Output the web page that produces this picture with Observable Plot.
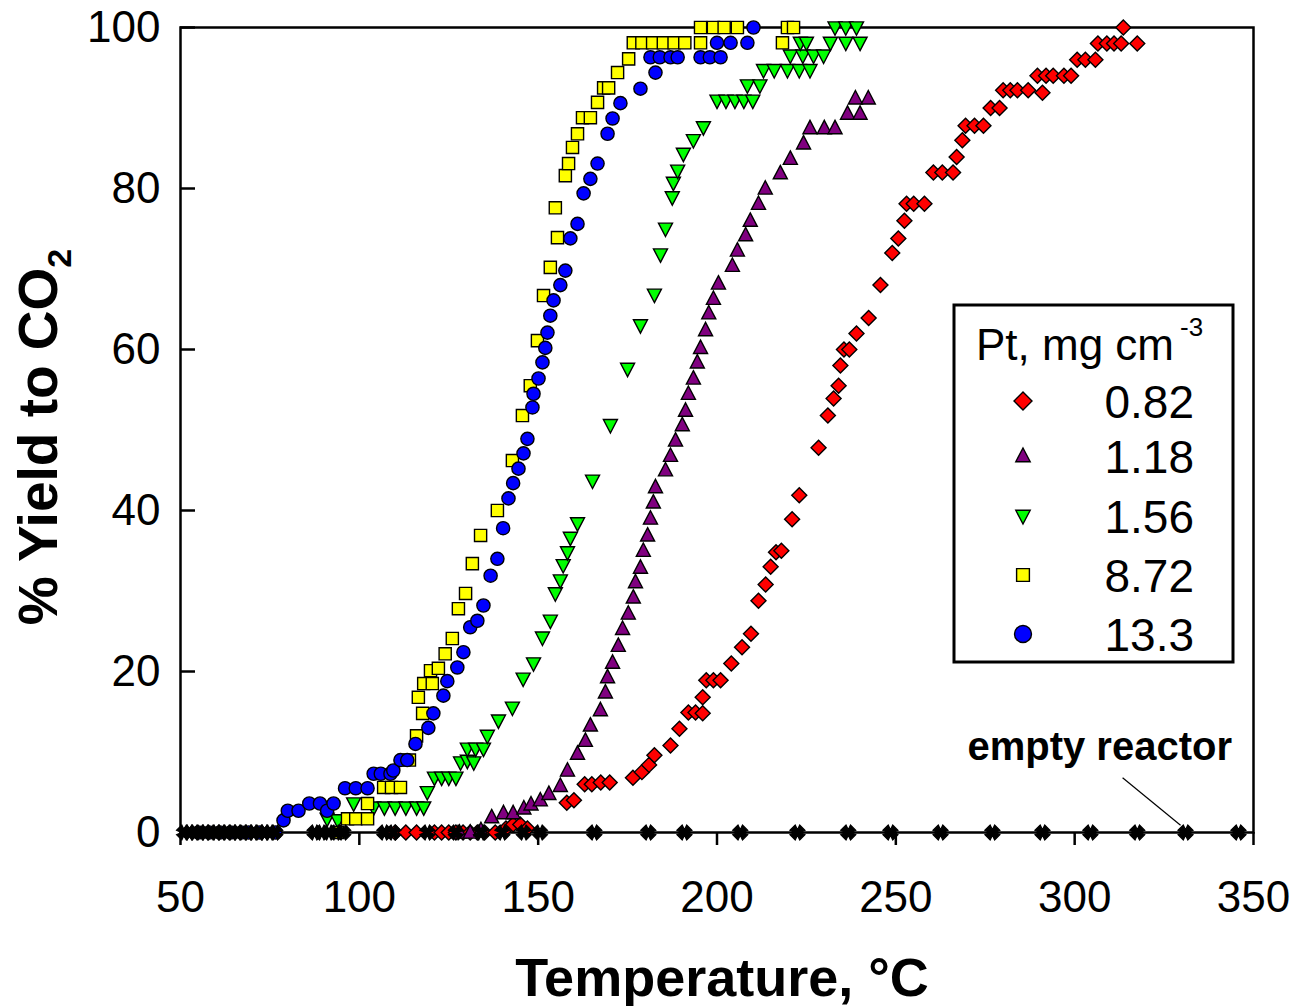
<!DOCTYPE html>
<html><head><meta charset="utf-8">
<script src="https://cdn.jsdelivr.net/npm/d3@7"></script>
<script src="https://cdn.jsdelivr.net/npm/@observablehq/plot@0.6"></script>
<style>body{margin:0;background:#fff} #chart{width:1296px;height:1006px}</style>
</head><body><div id="chart"></div>
<script>
// ---- data (temperature °C, % yield to CO2) ----
const seriesLabels = ["0.82", "1.18", "1.56", "8.72", "13.3"];
const pt082 = [[110,0],[113,0],[116,0],[121,0],[123,0],[125,0],[127,0],[129,0],[131,0],[133,0],[135,0],[138,0],[141,0.5],[143,1],[145,1],[147,0.5],[158,3.7],[160,4],[163,6],[165,6],[167.5,6.2],[170,6.2],[176.5,6.8],[179,7.5],[181,8.4],[182.5,9.6],[187,10.8],[189.5,12.9],[192,14.9],[194,14.9],[196,14.8],[196,16.8],[197,18.9],[199,18.9],[201,18.9],[204,21],[207,23],[209.5,24.7],[211.6,28.8],[213.6,30.8],[215,33],[216.5,34.8],[218,35],[221,38.9],[223,41.9],[228.4,47.8],[231,51.8],[232.6,53.9],[234,55.5],[234.5,58],[235.5,60],[237,60],[239,62],[242.4,63.9],[245.7,68],[249,72],[250.7,73.8],[252.4,76],[253,78.1],[255,78.1],[258,78.1],[260.5,82],[263,82],[266,82],[267,83.9],[268.6,86],[269.5,87.8],[272,87.8],[274.5,87.8],[276.5,90],[279,90],[280,92.2],[282,92.2],[284,92.2],[287,92.2],[289.6,94],[291,91.9],[292,94],[294,94],[297,94],[299,94],[300.7,96],[303,96],[305.8,96],[306.5,98],[309,98],[311,98],[313,98],[313.6,100],[317.5,98]];
const pt118 = [[128,0],[131,0],[134,0.3],[137,1.9],[140.3,2.4],[143,2.4],[146,3],[148,3.5],[150.6,4],[153,4.8],[156.2,5.8],[158.2,7.7],[161,9.8],[163.2,11.4],[164.6,13.3],[167.4,15.2],[168.8,17.4],[169.4,19.3],[170.8,21.1],[172.4,23.2],[173.6,25.3],[175.2,27.2],[176.6,29.2],[177.2,31.1],[178.6,32.9],[179.4,35],[180.6,36.9],[181.4,39],[182.2,41],[182.8,42.9],[185.6,45],[187,46.8],[188.4,48.7],[190.3,50.6],[191.2,52.4],[192,54.5],[193.4,56.4],[194.5,58.4],[195.4,60.2],[196.8,62.4],[197.7,64.5],[199,66.3],[200.4,68.2],[204.3,70.4],[205.7,72.3],[208,74.2],[209.3,76],[211.6,78.1],[213.5,80],[217.7,81.9],[220.5,83.7],[224.2,85.6],[226,87.5],[230,87.5],[233,87.5],[236.5,89.3],[240,89.3],[238.7,91.2],[242.3,91.2]];
const pt156 = [[91,1.7],[94,1.5],[98.4,3.6],[104,3.1],[107,3.1],[110,3.1],[113,3.1],[116,3.1],[118,3.1],[119,5],[121,6.8],[123,6.8],[125,6.8],[127,6.8],[128.3,8.7],[130.2,8.9],[132,8.7],[130.2,10.4],[132.5,10.4],[134.7,10.4],[135.8,12],[138.9,13.9],[142.8,15.5],[145.8,19.1],[148.7,21],[151.2,24.2],[153.4,26.3],[154.8,29.7],[156.2,31.3],[157,33.2],[158.2,34.8],[159,36.6],[161,38.4],[165.2,43.7],[170.2,50.6],[175,57.6],[178.6,63],[182.5,66.8],[184.2,71.8],[185.6,75],[187.5,78.9],[187.8,80.7],[189,82.2],[190.6,84.3],[193.4,86],[196.2,87.6],[200,90.9],[202.5,90.9],[205,90.9],[207.5,90.9],[210,90.9],[208.5,92.8],[212,92.8],[213,94.7],[216,94.7],[219.7,94.7],[223,94.7],[226,94.7],[220.5,96.5],[224,96.5],[227,96.5],[229.8,96.5],[223.3,98.1],[225,98.1],[231.7,98.1],[236,98.1],[240,98.1],[233,100],[236,100],[239,100]];
const pt872 = [[93.9,0],[96.7,1.7],[99,1.7],[102.3,1.7],[102.3,3.6],[106.8,5.6],[109,5.6],[111.5,5.6],[114,9],[116,12],[117.7,14.8],[116.5,16.8],[118,18.5],[120.4,18.5],[119.9,20.1],[122.1,20.4],[124,22.2],[126,24.1],[127.7,27.8],[129.7,29.7],[131.6,33.4],[133.9,36.9],[138.6,40],[142.8,46.2],[145.6,51.8],[147.8,55.5],[149.8,61.1],[151.5,66.7],[153.4,70.2],[155.4,73.9],[154.8,77.6],[157.6,81.6],[158.5,83.1],[159.6,85.1],[161,86.8],[162.4,88.8],[164.6,88.8],[166.6,90.7],[168.3,92.5],[169.7,92.5],[172.2,94.4],[175.3,96.1],[176.6,98.1],[179,98.1],[182,98.1],[185,98.1],[188,98.1],[191,98.1],[195.4,98.1],[195.4,100],[199,100],[202,100],[205.7,100],[218.3,98.1],[219.7,100],[221.4,100]];
const pt133 = [[55,0],[58,0],[61,0],[64,0],[67,0],[69,0],[72,0],[76.5,0],[78.8,1.5],[80,2.7],[83,2.7],[86,3.6],[89,3.6],[91,2.7],[92.8,3.6],[96,5.5],[99,5.5],[102.3,5.5],[104,7.3],[106,7.3],[108.7,7.3],[109.5,7.7],[111.5,9],[113.4,9],[115.7,11],[119.3,13],[120.7,14.8],[123.5,17],[124.6,18.8],[127.4,20.5],[129.1,22.4],[131,25.5],[133,26.3],[134.7,28.2],[136.7,31.9],[138.6,34],[140.2,37.8],[141.7,41.5],[143,43.4],[144.5,45.2],[145.9,47.1],[147,48.9],[148.4,52.8],[148.7,54.5],[150.1,56.4],[151.2,58.4],[152,60.2],[152.6,62.1],[153.4,64.2],[154.3,66.1],[156.2,68],[157.6,69.8],[159,73.8],[161,75.6],[162.7,79.4],[164.6,81.2],[166.6,83.1],[169.4,86.8],[170.8,88.7],[173,90.6],[178.6,92.4],[182.8,94.4],[181.4,96.3],[184,96.3],[187,96.3],[189,96.3],[195.4,96.3],[198,96.3],[201,96.3],[200,98.1],[203.8,98.1],[208.5,98.1],[210.2,100]];
const emptyReactorTemps = [51,52.5,54,55.5,57,58.5,60,61.5,63,64.5,66,67.5,69,70.5,72,73.5,75,76.5,87.5,89.5,91.5,93.5,95.5,107,109.5,119,127,134,140,146,150.5,165.7,180.8,190.9,206.5,222.5,236.7,248.5,262.5,277,291,304.4,317.5,331,345.8];
const xTicks = [50,100,150,200,250,300,350];
const yTicks = [0,20,40,60,80,100];
const annotationText = [{x: 307, y: 10.6, label: "empty reactor"}];
const annotationLine = [{x1: 313.4, y1: 6.8, x2: 329.6, y2: 0.9}];

// ---- symbols ----
const R = s => Math.sqrt(s / Math.PI);
const symDiamond = {draw(c, s){const r=R(s); c.moveTo(0,-r); c.lineTo(r,0); c.lineTo(0,r); c.lineTo(-r,0); c.closePath();}};
const symTriUp = {draw(c, s){const r=R(s); c.moveTo(0,-r); c.lineTo(r*0.9,r*0.72); c.lineTo(-r*0.9,r*0.72); c.closePath();}};
const symTriDown = {draw(c, s){const r=R(s); c.moveTo(0,r); c.lineTo(r*0.9,-r*0.72); c.lineTo(-r*0.9,-r*0.72); c.closePath();}};
const symSquare = {draw(c, s){const r=R(s)*0.8; c.moveTo(-r,-r); c.lineTo(r,-r); c.lineTo(r,r); c.lineTo(-r,r); c.closePath();}};
const symCircle = {draw(c, s){const r=R(s); c.moveTo(r,0); c.arc(0,0,r,0,2*Math.PI);}};
const symX = {draw(c, s){const r=R(s), w=r*0.7, m=r*0.35;
  const p=[[-r,-r+w],[-r+w,-r],[0,-m],[r-w,-r],[r,-r+w],[m,0],[r,r-w],[r-w,r],[0,m],[-r+w,r],[-r,r-w],[-m,0]];
  c.moveTo(p[0][0],p[0][1]); for (let i=1;i<p.length;i++) c.lineTo(p[i][0],p[i][1]); c.closePath();}};

const styles = [
  {pts: pt082, fill: "#ff0000", sym: symDiamond, r: 7.5},
  {pts: pt118, fill: "#800080", sym: symTriUp, r: 7.8},
  {pts: pt156, fill: "#00ff00", sym: symTriDown, r: 7.8},
  {pts: pt872, fill: "#ffff00", sym: symSquare, r: 7.6},
  {pts: pt133, fill: "#0000ff", sym: symCircle, r: 6.6}
];
const toRows = pts => pts.map(([t, y]) => ({t, y}));
const emptyRows = emptyReactorTemps.map(t => ({t, y: 0}));

const font = "'Liberation Sans', Arial, sans-serif";
const svg = Plot.plot({
  width: 1296, height: 1006,
  marginLeft: 180, marginRight: 43, marginTop: 27, marginBottom: 174,
  style: {fontFamily: font, fontSize: "44px", color: "#000", background: "#fff", overflow: "visible"},
  x: {domain: [50, 350]},
  y: {domain: [0, 100]},
  marks: [
    Plot.axisX({ticks: xTicks, tickSize: 13, tickPadding: 35, label: null, strokeWidth: 2.5, fontSize: 44}),
    Plot.axisY({ticks: yTicks, tickSize: 0, tickPadding: 20, label: null, fontSize: 44}),
    Plot.axisY({ticks: yTicks, tickSize: -15, tickFormat: () => "", label: null, strokeWidth: 2.5}),
    Plot.frame({stroke: "#000", strokeWidth: 2.5}),
    ...styles.map(s => Plot.dot(toRows(s.pts), {x: "t", y: "y", symbol: s.sym, r: s.r, fill: s.fill, stroke: "#000", strokeWidth: 1.4})),
    Plot.dot(emptyRows, {x: "t", y: "y", symbol: symX, r: 7.5, fill: "#000", stroke: "#000", strokeWidth: 1.2}),
    Plot.link(annotationLine, {x1: "x1", y1: "y1", x2: "x2", y2: "y2", stroke: "#000", strokeWidth: 1.2}),
    Plot.text(annotationText, {x: "x", y: "y", text: "label", fontSize: 40, fontWeight: "bold", fill: "#000", textAnchor: "middle"})
  ]
});

const s = d3.select(svg);
// axis titles
const yl = s.append("text").attr("transform", "translate(57,437) rotate(-90)")
  .attr("text-anchor", "middle").attr("font-family", font).attr("font-weight", "bold")
  .attr("font-size", 55).attr("fill", "#000");
yl.append("tspan").text("% Yield to CO");
yl.append("tspan").attr("font-size", 34).attr("dy", 14).text("2");
s.append("text").attr("x", 722).attr("y", 996).attr("text-anchor", "middle")
  .attr("font-family", font).attr("font-weight", "bold").attr("font-size", 54).attr("fill", "#000")
  .text("Temperature, °C");

// legend
const lg = s.append("g");
lg.append("rect").attr("x", 954).attr("y", 305).attr("width", 279).attr("height", 357)
  .attr("fill", "#fff").attr("stroke", "#000").attr("stroke-width", 3);
const lt = lg.append("text").attr("x", 976).attr("y", 360).attr("text-anchor", "start")
  .attr("font-family", font).attr("font-size", 44).attr("fill", "#000");
lt.append("tspan").text("Pt, mg cm");
lt.append("tspan").attr("font-size", 26).attr("dy", -24).attr("dx", 6).text("-3");
const rowsY = [401, 456, 516, 575, 634];
const legendR = [9, 8, 8, 8, 8.5];
styles.forEach((st, i) => {
  lg.append("path").attr("transform", `translate(1023,${rowsY[i]})`)
    .attr("d", d3.symbol(st.sym, Math.PI * legendR[i] * legendR[i])())
    .attr("fill", st.fill).attr("stroke", "#000").attr("stroke-width", 1.4);
  lg.append("text").attr("x", 1194).attr("y", rowsY[i]).attr("dy", "0.36em")
    .attr("text-anchor", "end").attr("font-family", font).attr("font-size", 46)
    .attr("fill", "#000").text(seriesLabels[i]);
});

document.getElementById("chart").appendChild(svg);
</script></body></html>
